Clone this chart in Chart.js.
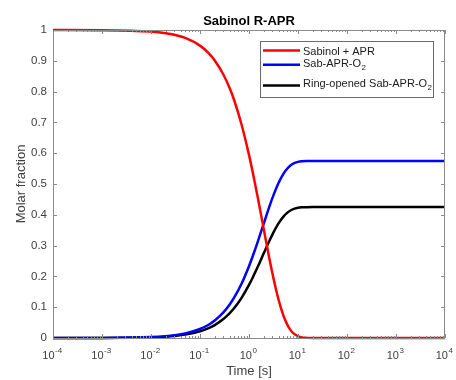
<!DOCTYPE html>
<html>
<head>
<meta charset="utf-8">
<script src="https://cdn.jsdelivr.net/npm/chart.js@4/dist/chart.umd.min.js"></script>
<style>
  html, body { margin: 0; padding: 0; background: #ffffff; }
  #wrap { width: 456px; height: 380px; position: relative; }
</style>
</head>
<body>
<div id="wrap"><canvas id="c" width="456" height="380"></canvas></div>
<script>
// ---- data ----
const times   = [1e-4, 1e-3, 0.01, 0.02, 0.03, 0.05, 0.1, 0.15, 0.2, 0.3, 0.4, 0.5, 0.7, 1, 1.2, 1.5, 2, 2.5, 3, 4, 5, 6, 7, 8, 10, 12, 15, 20, 100, 1000, 10000];
const sabinol = [1.0, 0.9995, 0.9948, 0.9897, 0.9845, 0.9743, 0.9493, 0.9250, 0.9012, 0.8556, 0.8122, 0.7711, 0.6949, 0.5945, 0.5358, 0.4584, 0.3535, 0.2725, 0.2101, 0.1249, 0.0743, 0.0442, 0.0263, 0.0156, 0.0055, 0.0019, 0.0004, 0, 0, 0, 0];
const sabO2   = [0, 0.0003, 0.0030, 0.0059, 0.0089, 0.0148, 0.0292, 0.0431, 0.0568, 0.0830, 0.1080, 0.1316, 0.1754, 0.2332, 0.2669, 0.3114, 0.3717, 0.4183, 0.4542, 0.5032, 0.5323, 0.5496, 0.5599, 0.5660, 0.5718, 0.5739, 0.5748, 0.575, 0.575, 0.575, 0.575];
const ringO2  = [0, 0.0002, 0.0022, 0.0044, 0.0066, 0.0109, 0.0215, 0.0319, 0.0420, 0.0614, 0.0798, 0.0973, 0.1297, 0.1723, 0.1973, 0.2302, 0.2748, 0.3092, 0.3357, 0.3719, 0.3934, 0.4062, 0.4138, 0.4184, 0.4227, 0.4242, 0.4248, 0.425, 0.425, 0.425, 0.425];
const seriesNames = ['Sabinol + APR', 'Sab-APR-O\u2082', 'Ring-opened Sab-APR-O\u2082'];
const xTickValues = [1e-4, 1e-3, 1e-2, 1e-1, 1, 10, 100, 1000, 10000];
const xTickBase = '10';
const xTickExponents = ['-4', '-3', '-2', '-1', '0', '1', '2', '3', '4'];
const yTickValues = [0, 0.1, 0.2, 0.3, 0.4, 0.5, 0.6, 0.7, 0.8, 0.9, 1];
const yTickLabels = ['0', '0.1', '0.2', '0.3', '0.4', '0.5', '0.6', '0.7', '0.8', '0.9', '1'];
const titleText = 'Sabinol R-APR';
const xTitle = 'Time [s]';
const yTitle = 'Molar fraction';

const colors = ['#ff0000', '#0000ff', '#000000'];
const FONT = '"Liberation Sans", Arial, Helvetica, sans-serif';
const TEXT = '#404040';
const AXIS = '#8a8a8a';

function pts(ys) { return times.map((t, i) => ({ x: t, y: ys[i] })); }

const boxPlugin = {
  id: 'matlabBox',
  afterDatasetsDraw(chart) {
    const { ctx, chartArea: a, scales } = chart;
    const xs = scales.x, ys = scales.y;
    ctx.save();
    ctx.strokeStyle = AXIS;
    ctx.lineWidth = 1;
    ctx.beginPath();
    // x ticks (major + minor), bottom and top, inward
    for (let e = -4; e <= 4; e++) {
      for (let m = 1; m <= 9; m++) {
        const v = m * Math.pow(10, e);
        if (v > 1e4 * 1.0001) break;
        const px = Math.round(xs.getPixelForValue(v)) + 0.5;
        const len = (m === 1) ? 4 : 2;
        ctx.moveTo(px, a.bottom); ctx.lineTo(px, a.bottom - len);
        ctx.moveTo(px, a.top); ctx.lineTo(px, a.top + len);
      }
    }
    yTickValues.forEach(v => {
      const py = Math.round(ys.getPixelForValue(v)) + 0.5;
      ctx.moveTo(a.left, py); ctx.lineTo(a.left + 4, py);
      ctx.moveTo(a.right, py); ctx.lineTo(a.right - 4, py);
    });
    ctx.stroke();
    ctx.strokeRect(Math.round(a.left) + 0.5, Math.round(a.top) + 0.5, Math.round(a.right - a.left) - 1, Math.round(a.bottom - a.top));

    // x tick labels: 10 with superscript exponent
    ctx.fillStyle = TEXT;
    ctx.textBaseline = 'alphabetic';
    ctx.textAlign = 'left';
    xTickValues.forEach((v, i) => {
      const px = xs.getPixelForValue(v);
      ctx.font = '11px ' + FONT;
      const wb = ctx.measureText(xTickBase).width;
      ctx.font = '8px ' + FONT;
      const we = ctx.measureText(xTickExponents[i]).width;
      const x0 = px - (wb + we) / 2 - 1;
      ctx.font = '11px ' + FONT;
      ctx.fillText(xTickBase, x0, a.bottom + 20.5);
      ctx.font = '8px ' + FONT;
      ctx.fillText(xTickExponents[i], x0 + wb + 0.5, a.bottom + 15);
    });

    // legend
    const lx = a.right - 184.5, ly = a.top + 11.5, lw = 173, lh = 56;
    ctx.fillStyle = '#ffffff';
    ctx.fillRect(lx, ly, lw, lh);
    ctx.strokeStyle = '#6a6a6a';
    ctx.lineWidth = 1;
    ctx.strokeRect(lx, ly, lw, lh);
    const rowY = [9, 23.3, 44];
    const txtY = [9.3, 22, 42];
    chart.data.datasets.forEach((ds, i) => {
      const y = ly + rowY[i];
      ctx.strokeStyle = ds.borderColor;
      ctx.lineWidth = 2.5;
      ctx.beginPath();
      ctx.moveTo(lx + 2.5, y); ctx.lineTo(lx + 39.5, y);
      ctx.stroke();
      const fs = 11;
      ctx.fillStyle = '#1a1a1a';
      ctx.font = fs + 'px ' + FONT;
      let label = ds.label;
      const base = ly + txtY[i] + 0.358 * fs;
      let sub = '';
      if (label.endsWith('\u2082')) { sub = '2'; label = label.slice(0, -1); }
      ctx.fillText(label, lx + 42.5, base);
      if (sub) {
        const w = ctx.measureText(label).width;
        ctx.font = '8px ' + FONT;
        ctx.fillText(sub, lx + 42.5 + w + 0.5, base + 3);
      }
    });
    ctx.restore();
  }
};

new Chart(document.getElementById('c'), {
  type: 'line',
  data: {
    datasets: [
      { label: seriesNames[0], data: pts(sabinol), borderColor: colors[0] },
      { label: seriesNames[1], data: pts(sabO2), borderColor: colors[1] },
      { label: seriesNames[2], data: pts(ringO2), borderColor: colors[2] }
    ].map(d => Object.assign(d, {
      borderWidth: 2.5, pointRadius: 0, fill: false,
      cubicInterpolationMode: 'monotone', clip: 4
    }))
  },
  options: {
    responsive: false,
    animation: false,
    devicePixelRatio: 1,
    layout: { padding: { left: 0, right: 11, top: 0, bottom: 0 } },
    plugins: {
      legend: { display: false },
      tooltip: { enabled: false },
      title: {
        display: true, text: titleText, fullSize: false,
        color: '#000000',
        font: { family: FONT, size: 13, weight: 'bold' },
        padding: { top: 13.2, bottom: 1.2 }
      }
    },
    scales: {
      x: {
        type: 'logarithmic', min: 1e-4, max: 1e4,
        afterBuildTicks: (s) => { s.ticks = xTickValues.map(v => ({ value: v })); },
        afterFit: (s) => { s.height = 42; },
        grid: { display: false, drawTicks: false },
        border: { display: false },
        ticks: { display: false },
        title: {
          display: true, text: xTitle, color: TEXT,
          font: { family: FONT, size: 13 }, padding: { top: 0, bottom: 1 }
        }
      },
      y: {
        type: 'linear', min: 0, max: 1,
        afterBuildTicks: (s) => { s.ticks = yTickValues.map(v => ({ value: v })); },
        afterFit: (s) => { s.width = 53; },
        grid: { display: false, drawTicks: false },
        border: { display: false },
        ticks: {
          autoSkip: false, padding: 6,
          color: TEXT, font: { family: FONT, size: 11.5 },
          callback: (v, i) => yTickLabels[i]
        },
        title: {
          display: true, text: yTitle, color: TEXT,
          font: { family: FONT, size: 13 }, padding: { top: 13.4, bottom: 0 }
        }
      }
    }
  },
  plugins: [boxPlugin]
});
</script>
</body>
</html>
